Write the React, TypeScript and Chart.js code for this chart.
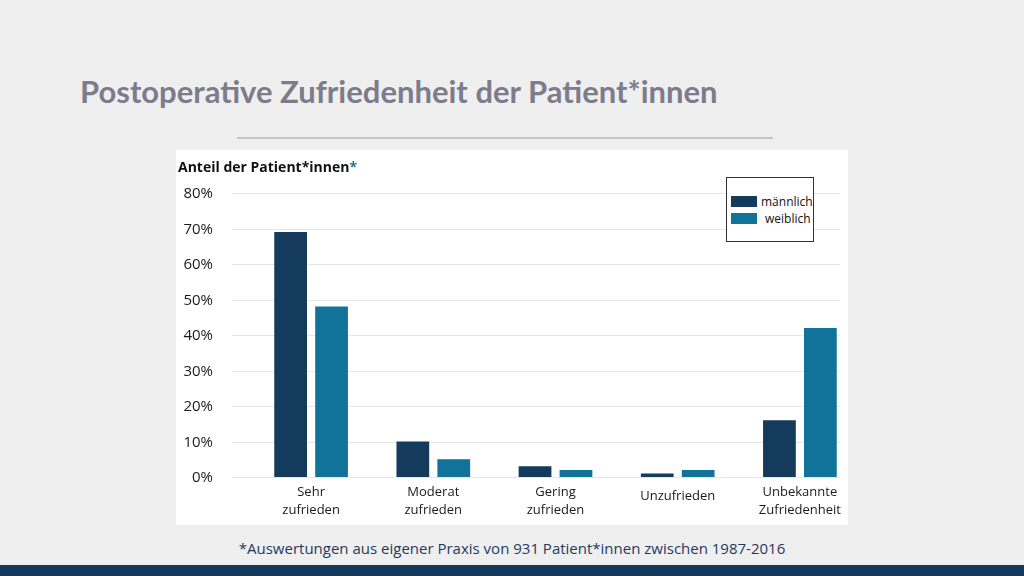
import React, { useEffect, useRef } from "react";
import { Chart, registerables } from "chart.js";
Chart.register(...registerables);

const categories = [["Sehr", "zufrieden"], ["Moderat", "zufrieden"], ["Gering", "zufrieden"], ["Unzufrieden"], ["Unbekannte", "Zufriedenheit"]];
const maleValues = [69, 10, 3, 1, 16];
const femaleValues = [48, 5, 2, 2, 42];
const yTicks = [0, 10, 20, 30, 40, 50, 60, 70, 80];
const MALE = "#143b5c";
const FEMALE = "#11739a";
const FONT = "'Open Sans', 'Noto Sans', sans-serif";

export default function App() {
  const ref = useRef<HTMLCanvasElement>(null);
  useEffect(() => {
    const overlay = {
      id: "overlay",
      beforeDatasetsDraw(chart: any) {
        const ctx = chart.ctx;
        const y = chart.scales.y;
        ctx.save();
        ctx.strokeStyle = "#e6e6e6";
        ctx.lineWidth = 1;
        ctx.fillStyle = "#1a1a1a";
        ctx.font = `15px ${FONT}`;
        ctx.textAlign = "right";
        ctx.textBaseline = "middle";
        yTicks.forEach((t) => {
          const py = Math.round(y.getPixelForValue(t)) + 0.5;
          ctx.beginPath();
          ctx.moveTo(56, py);
          ctx.lineTo(664, py);
          ctx.stroke();
          ctx.fillText(t + "%", 37, py);
        });
        const x = chart.scales.x;
        ctx.font = `13px ${FONT}`;
        ctx.textAlign = "center";
        ctx.textBaseline = "middle";
        categories.forEach((c, i) => {
          const px = x.getPixelForValue(i);
          const base = c.length === 1 ? 346 : 342;
          c.forEach((l, j) => ctx.fillText(l, px, base + j * 18));
        });
        ctx.restore();
      },
    };
    const chart = new Chart(ref.current!, {
      type: "bar",
      data: {
        labels: categories.map((c) => c.join(" ")),
        datasets: [
          { label: "männlich", data: maleValues, backgroundColor: MALE },
          { label: "weiblich", data: femaleValues, backgroundColor: FEMALE },
        ],
      },
      options: {
        animation: false,
        responsive: false,
        maintainAspectRatio: false,
        layout: { padding: { left: 74, right: 15, top: 43, bottom: 48 } },
        datasets: { bar: { categoryPercentage: 0.67, barPercentage: 0.8 } },
        plugins: { legend: { display: false }, tooltip: { enabled: false } },
        scales: {
          x: { display: false },
          y: { display: false, min: 0, max: 80 },
        },
      },
      plugins: [overlay],
    });
    return () => chart.destroy();
  }, []);

  return (
    <div style={{ position: "absolute", left: 0, top: 0, width: 1024, height: 576, background: "#efefef", overflow: "hidden", fontFamily: FONT }}>
      <div style={{ position: "absolute", left: 80, top: 72, fontFamily: "Lato, sans-serif", fontWeight: 700, fontSize: 31, color: "#7d7c8c", whiteSpace: "nowrap" }}>
        Postoperative Zufriedenheit der Patient*innen
      </div>
      <div style={{ position: "absolute", left: 237, top: 137, width: 536, height: 2, background: "#c4c4c8" }} />
      <div style={{ position: "absolute", left: 176, top: 150, width: 672, height: 375, background: "#fff" }} />
      <canvas ref={ref} width={700} height={375} style={{ position: "absolute", left: 176, top: 150, width: 700, height: 375 }} />
      <div style={{ position: "absolute", left: 178, top: 157, fontSize: 14, fontWeight: 700, color: "#111", whiteSpace: "nowrap" }}>
        Anteil der Patient*innen<span style={{ color: "#2a6f8f" }}>*</span>
      </div>
      <div style={{ position: "absolute", left: 726, top: 177, width: 86, height: 63, border: "1px solid #333", background: "#fff", fontSize: 12, color: "#111" }}>
        <div style={{ position: "absolute", left: 4, top: 18, width: 26, height: 11, background: MALE }} />
        <div style={{ position: "absolute", left: 34, top: 15, whiteSpace: "nowrap" }}>männlich</div>
        <div style={{ position: "absolute", left: 4, top: 35, width: 26, height: 11, background: FEMALE }} />
        <div style={{ position: "absolute", left: 38, top: 32, whiteSpace: "nowrap" }}>weiblich</div>
      </div>
      <div style={{ position: "absolute", left: 0, width: 1024, top: 538, textAlign: "center", fontSize: 15, color: "#1f3a5f" }}>
        *Auswertungen aus eigener Praxis von 931 Patient*innen zwischen 1987-2016
      </div>
      <div style={{ position: "absolute", left: 0, top: 565, width: 1024, height: 11, background: "#14395a" }} />
    </div>
  );
}
